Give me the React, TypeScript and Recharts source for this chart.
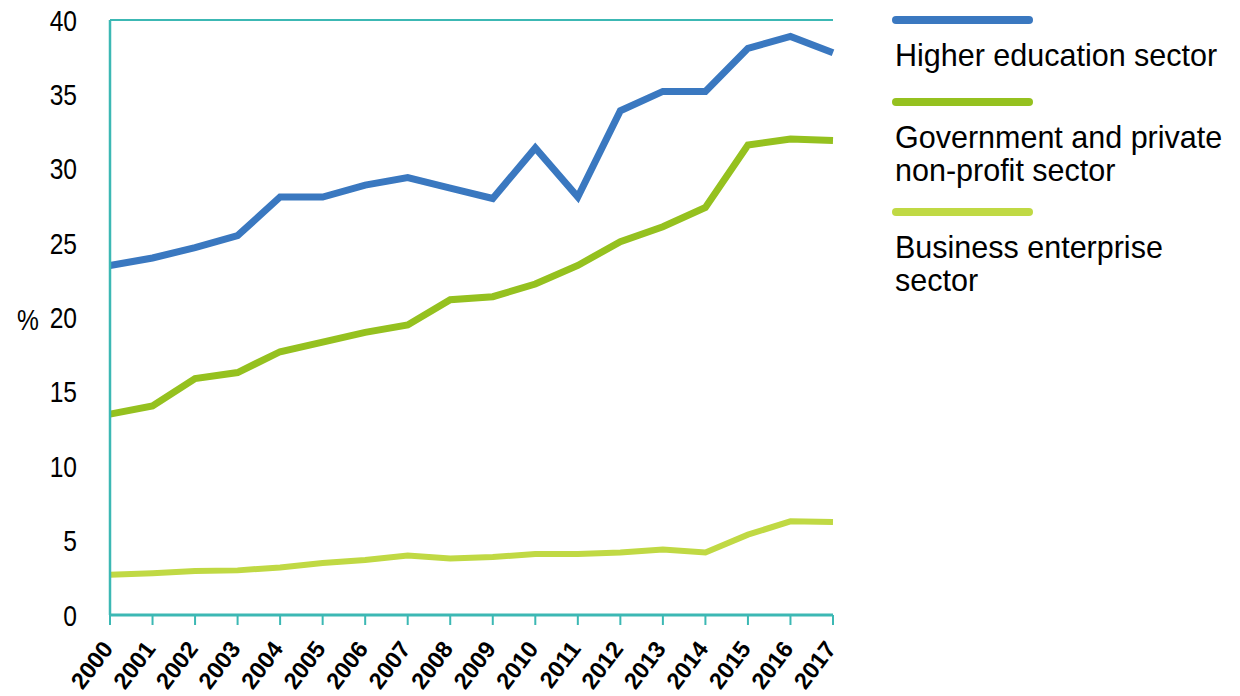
import React from 'react';
import { LineChart, Line, XAxis, YAxis, CartesianGrid, Legend } from 'recharts';

const years = ['2000','2001','2002','2003','2004','2005','2006','2007','2008','2009','2010','2011','2012','2013','2014','2015','2016','2017'];
const higherEducation = [23.5, 24.0, 24.7, 25.5, 28.1, 28.1, 28.9, 29.4, 28.7, 28.0, 31.4, 28.1, 33.9, 35.2, 35.2, 38.1, 38.9, 37.8];
const government = [13.5, 14.05, 15.9, 16.3, 17.7, 18.35, 19.0, 19.5, 21.2, 21.4, 22.25, 23.5, 25.1, 26.1, 27.4, 31.6, 32.0, 31.9];
const business = [2.7, 2.8, 2.95, 3.0, 3.2, 3.5, 3.7, 4.0, 3.8, 3.9, 4.1, 4.1, 4.2, 4.4, 4.2, 5.4, 6.3, 6.25];
const yTicks = [0, 5, 10, 15, 20, 25, 30, 35, 40];

const seriesNames = ['Higher education sector', 'Government and private non-profit sector', 'Business enterprise sector'];
const legendLines = [['Higher education sector'], ['Government and private', 'non-profit sector'], ['Business enterprise', 'sector']];
const colors = ['#3a78c0', '#95c11f', '#c0d944'];

const data = years.map((y, i) => ({ year: y, he: higherEducation[i], gov: government[i], bus: business[i] }));

const TEAL = '#3cb8b4';
const SANS = "'Liberation Sans', Arial, sans-serif";

const XTick = (props: any) => {
  const { x, payload } = props;
  const ax = x + 4;
  const ay = 649;
  return (
    <text x={ax} y={ay} transform={`rotate(-53, ${ax}, ${ay})`} textAnchor="end" fontWeight="bold" fontSize={23.5} fontFamily={SANS} fill="#000">
      {payload.value}
    </text>
  );
};

const YTick = (props: any) => {
  const { x, y, payload } = props;
  return (
    <text transform={`translate(${x}, ${y + 10.5}) scale(0.82, 1)`} textAnchor="end" fontSize={30} fontFamily={SANS} fill="#000">
      {payload.value}
    </text>
  );
};

const PercentLabel = (props: any) => {
  const vb = props.viewBox || { y: 20, height: 595 };
  const cy = vb.y + vb.height / 2 + 2;
  return (
    <text transform={`translate(17, ${cy + 10.5}) scale(0.82, 1)`} textAnchor="start" fontSize={30} fontFamily={SANS} fill="#000">%</text>
  );
};

const LegendContent = () => {
  const tops = [0, 82, 192];
  return (
    <div style={{ position: 'relative', width: 407, height: 290 }}>
      {legendLines.map((lines, i) => (
        <div key={i}>
          <div style={{ position: 'absolute', left: 59, top: tops[i] - 4, width: 141, height: 8, borderRadius: 4, background: colors[i] }} />
          {lines.map((t, j) => (
            <div key={j} style={{ position: 'absolute', left: 62, top: tops[i] + 18.5 + j * 33, fontSize: 30.5, lineHeight: '33px', fontFamily: SANS, color: '#000', whiteSpace: 'nowrap' }}>{t}</div>
          ))}
        </div>
      ))}
    </div>
  );
};

export default function App() {
  return (
    <div style={{ position: 'absolute', left: 0, top: 0, width: 1240, height: 696, background: '#fff' }}>
      <LineChart width={1240} height={696} data={data} margin={{ top: 20, right: 0, bottom: 6, left: 0 }}>
        <CartesianGrid vertical={false} stroke={TEAL} strokeWidth={2} />
        <XAxis dataKey="year" interval={0} axisLine={{ stroke: TEAL, strokeWidth: 3 }} tickLine={{ stroke: TEAL, strokeWidth: 2 }} tickSize={10} height={75} tick={<XTick />} padding={{ left: 0, right: 0 }} />
        <YAxis yAxisId="l" domain={[0, 40]} ticks={yTicks} width={110} axisLine={{ stroke: TEAL, strokeWidth: 2.5 }} tickLine={false} tickMargin={27}
          tick={<YTick />}
          label={<PercentLabel />} />
        <YAxis yAxisId="r" orientation="right" domain={[0, 40]} width={0} axisLine={{ stroke: TEAL, strokeWidth: 2.5 }} tickLine={false} tick={false} />
        <Legend layout="vertical" align="right" verticalAlign="top" content={<LegendContent />} />
        <Line yAxisId="l" type="linear" dataKey="he" name={seriesNames[0]} stroke={colors[0]} strokeWidth={7} dot={false} isAnimationActive={false} />
        <Line yAxisId="l" type="linear" dataKey="gov" name={seriesNames[1]} stroke={colors[1]} strokeWidth={7} dot={false} isAnimationActive={false} />
        <Line yAxisId="l" type="linear" dataKey="bus" name={seriesNames[2]} stroke={colors[2]} strokeWidth={6} dot={false} isAnimationActive={false} />
      </LineChart>
    </div>
  );
}
